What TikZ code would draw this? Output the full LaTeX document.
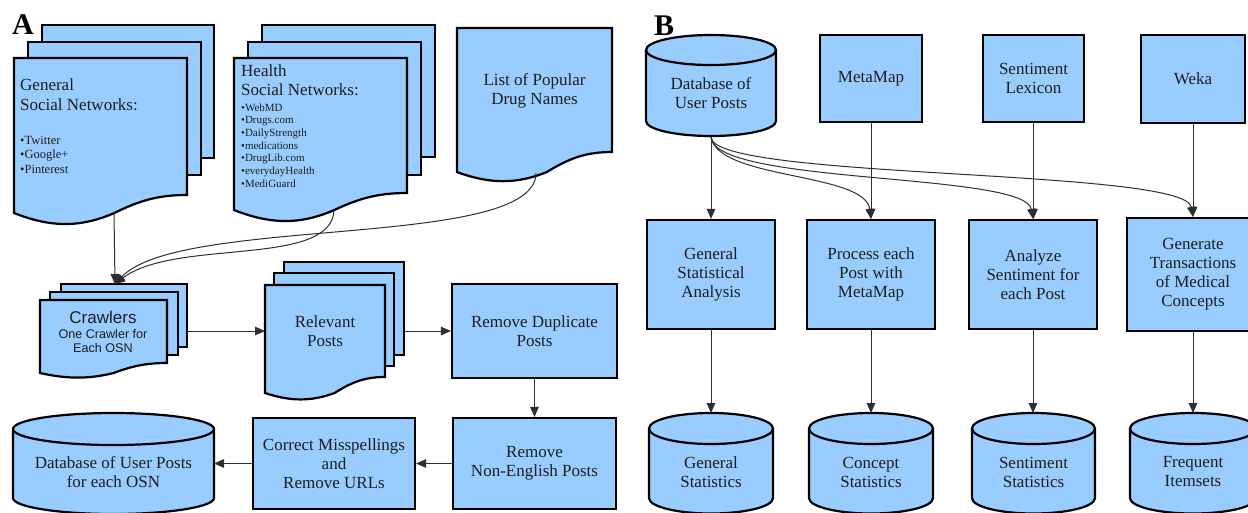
\documentclass[tikz,border=0pt]{standalone}
\usepackage{fontspec}
\setmainfont{Liberation Serif}
\newfontfamily\serf{Liberation Serif}
\newfontfamily\sansf{Liberation Sans}
\usetikzlibrary{arrows.meta}
\definecolor{boxblue}{HTML}{99CCFF}
\definecolor{txtc}{HTML}{1E1E1E}
\definecolor{arrc}{HTML}{2E2E2E}
% document shape: x0, ytop, x1, yL (left bottom), yR (right bottom), dip
\newcommand{\docsh}[6]{%
\filldraw[shp] (#1,#2) -- (#3,#2) -- (#3,#5)
 .. controls ({#1+0.84*(#3-#1)},#5) and ({#1+0.73*(#3-#1)},{#5+0.28*(#4-#5)}) .. ({#1+0.58*(#3-#1)},#4)
 .. controls ({#1+0.38*(#3-#1)},{#4+1.25*#6}) and ({#1+0.21*(#3-#1)},{#4+1.2*#6}) .. (#1,#4) -- cycle;}
% cylinder: cx, r, ytop, ybottom (side end), ry
\newcommand{\cylsh}[5]{%
\filldraw[shp] ({#1-#2},{#3+#5}) -- ({#1-#2},{#4})
 .. controls ({#1-#2},{#4+0.5523*#5}) and ({#1-0.5523*#2},{#4+#5}) .. ({#1},{#4+#5})
 .. controls ({#1+0.5523*#2},{#4+#5}) and ({#1+#2},{#4+0.5523*#5}) .. ({#1+#2},{#4})
 -- ({#1+#2},{#3+#5})
 .. controls ({#1+#2},{#3+#5-0.5523*#5}) and ({#1+0.5523*#2},{#3}) .. ({#1},{#3})
 .. controls ({#1-0.5523*#2},{#3}) and ({#1-#2},{#3+#5-0.5523*#5}) .. ({#1-#2},{#3+#5}) -- cycle;
\draw[shp, fill=none] ({#1-#2},{#3+#5}) .. controls ({#1-#2},{#3+#5+0.5523*#5}) and ({#1-0.5523*#2},{#3+2*#5}) .. ({#1},{#3+2*#5})
 .. controls ({#1+0.5523*#2},{#3+2*#5}) and ({#1+#2},{#3+#5+0.5523*#5}) .. ({#1+#2},{#3+#5});}
\begin{document}
\begin{tikzpicture}[x=1pt,y=-1pt,
  shp/.style={fill=boxblue, draw=black, line width=2.2pt, line join=miter},
  box/.style={shp, rectangle, inner sep=0pt, text=txtc, align=center, font=\serf\fontsize{17}{19}\selectfont},
  lbl/.style={text=txtc, align=center, inner sep=0pt, font=\serf\fontsize{17}{19}\selectfont},
  conn/.style={draw=arrc, line width=1pt, -{Triangle[length=10pt,width=8.5pt]}},
  panel/.style={inner sep=0pt, text=black, font=\serf\fontsize{30}{30}\selectfont\bfseries},
]
\useasboundingbox (0,0) rectangle (1248,512);
\clip (0,0) rectangle (1248,512);

% ---------------- Panel A ----------------
\node[panel] (labA) at (23,25) {A};

% General social networks stack
\filldraw[shp] (42,25) rectangle (214,158);
\filldraw[shp] (28,42) rectangle (201,175);
\docsh{14}{58}{187}{213}{195}{12}
\node[lbl, anchor=west, align=left, font=\serf\fontsize{17}{20}\selectfont] (gsn) at (20,95) {General\\Social Networks:};
\node[lbl, anchor=west, align=left, font=\serf\fontsize{12.5}{14.5}\selectfont] (gsnlist) at (20,154.5) {•Twitter\\•Google+\\•Pinterest};

% Health social networks stack
\filldraw[shp] (262,25) rectangle (435,157);
\filldraw[shp] (248,42) rectangle (421,175);
\docsh{234}{58}{407}{210}{193}{12}
\node[lbl, anchor=west, align=left] (hsn) at (241,80.5) {Health\\Social Networks:};
\node[lbl, anchor=west, align=left, font=\serf\fontsize{11}{12.7}\selectfont] (hsnlist) at (241,145.5) {•WebMD\\•Drugs.com\\•DailyStrength\\•medications\\•DrugLib.com\\•everydayHealth\\•MediGuard};

% List of drug names
\docsh{457}{28}{612}{172}{152}{10}
\node[lbl] (drugs) at (534.5,90.5) {List of Popular\\Drug Names};

% Crawlers stack
\filldraw[shp] (61,284) rectangle (187,347);
\filldraw[shp] (50,292) rectangle (178,355);
\docsh{40}{300}{167}{373}{363}{5}
\node[lbl, font=\sansf\fontsize{17}{19}\selectfont] (crawl) at (103,317) {Crawlers};
\node[lbl, font=\sansf\fontsize{12.6}{14}\selectfont] (crawlsub) at (103,341) {One Crawler for\\Each OSN};

% Relevant posts stack
\filldraw[shp] (284,262) rectangle (404,355);
\filldraw[shp] (274,273) rectangle (394,366);
\docsh{265}{285}{385}{393}{377}{7}
\node[lbl] (relev) at (325,331.5) {Relevant\\Posts};

% process boxes
\node[box, minimum width=165pt, minimum height=94pt] (remdup) at (534.5,331) {Remove Duplicate\\Posts};
\node[box, minimum width=163pt, minimum height=91pt] (remne) at (534.5,463.5) {Remove\\Non-English Posts};
\node[box, minimum width=162pt, minimum height=91pt] (corr) at (334,463.5) {Correct Misspellings\\and\\Remove URLs};

% database A
\cylsh{113.5}{100.5}{413}{498}{16}
\node[lbl] (dbA) at (113.5,472) {Database of User Posts\\for each OSN};

% coordinates for connectors in A
\coordinate (genout) at (114,213);
\coordinate (hlthout) at (334,210);
\coordinate (listout) at (536,173);
\coordinate (crawlin) at (115,284);
\coordinate (crawlout) at (187,331);
\coordinate (relin) at (265,331);
\coordinate (relout) at (404,331);
\coordinate (dbAin) at (214,463.5);

\draw[conn] (genout) -- (crawlin);
\draw[conn] (hlthout) .. controls (332,268) and (175,238) .. (crawlin);
\draw[conn] (listout) .. controls (536,250) and (180,215) .. (crawlin);
\draw[conn] (crawlout) -- (relin);
\draw[conn] (relout) -- (remdup.west);
\draw[conn] (remdup.south) -- (remne.north);
\draw[conn] (remne.west) -- (corr.east);
\draw[conn] (corr.west) -- (dbAin);

% ---------------- Panel B ----------------
\node[panel] (labB) at (664,26) {B};

\cylsh{711}{65}{35}{121}{15}
\node[lbl] (dbB) at (711,93) {Database of\\User Posts};
\coordinate (dbBout) at (711,137);

\node[box, minimum width=102pt, minimum height=87pt] (mm) at (871,78.5) {MetaMap};
\node[box, minimum width=101pt, minimum height=87pt] (sl) at (1033.5,78.5) {Sentiment\\Lexicon};
\node[box, minimum width=104pt, minimum height=88pt] (weka) at (1193,79) {Weka};

\node[box, minimum width=128pt, minimum height=109pt] (gsa) at (711,274.5) {General\\Statistical\\Analysis};
\node[box, minimum width=128pt, minimum height=109pt] (proc) at (871,274.5) {Process each\\Post with\\MetaMap};
\node[box, minimum width=128pt, minimum height=109pt] (ana) at (1033,274.5) {Analyze\\Sentiment for\\each Post};
\node[box, minimum width=132pt, minimum height=113pt] (gtr) at (1193,274.5) {Generate\\Transactions\\of Medical\\Concepts};

\cylsh{711}{62}{413}{498}{15.5}
\node[lbl] (gstat) at (711,472) {General\\Statistics};
\cylsh{871}{62}{413}{498}{15.5}
\node[lbl] (cstat) at (871,472) {Concept\\Statistics};
\cylsh{1033.5}{61.5}{413}{498}{15.5}
\node[lbl] (sstat) at (1033.5,472) {Sentiment\\Statistics};
\cylsh{1193}{63}{413}{498}{15.5}
\node[lbl] (fitem) at (1193,472) {Frequent\\Itemsets};

\coordinate (gstatin) at (711,413);
\coordinate (cstatin) at (871,413);
\coordinate (sstatin) at (1033.5,413);
\coordinate (fitemin) at (1193,413);

\draw[conn] (dbBout) -- (gsa.north);
\draw[conn] (dbBout) .. controls (718,180) and (865,172) .. (proc.north);
\draw[conn] (dbBout) .. controls (713,185) and (1025,172) .. (ana.north);
\draw[conn] (dbBout) .. controls (712,180) and (1185,168) .. (gtr.north);
\draw[conn] (mm.south) -- (proc.north);
\draw[conn] (sl.south) -- (sl.south |- ana.north);
\draw[conn] (weka.south) -- (gtr.north);

\draw[conn] (gsa.south) -- (gstatin);
\draw[conn] (proc.south) -- (cstatin);
\draw[conn] (ana.south) -- (ana.south |- sstatin);
\draw[conn] (gtr.south) -- (fitemin);
\end{tikzpicture}
\end{document}
